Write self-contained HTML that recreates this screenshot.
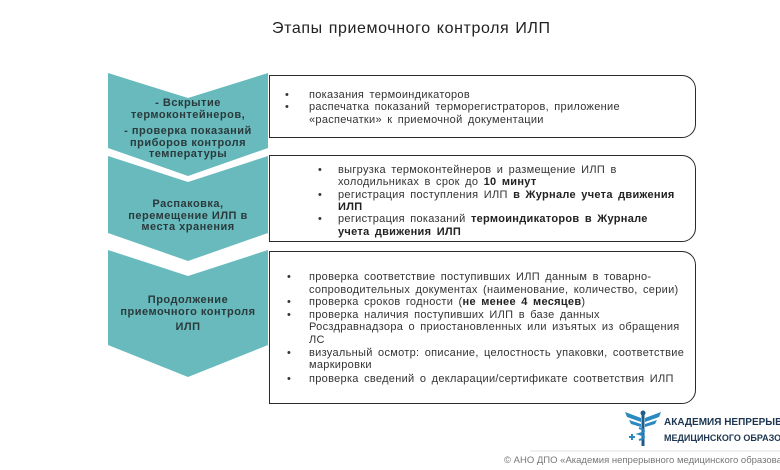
<!DOCTYPE html>
<html><head><meta charset="utf-8"><style>
body{margin:0;width:780px;height:470px;background:#fff;position:relative;overflow:hidden;font-family:"Liberation Sans",sans-serif;}
.t{position:absolute;white-space:nowrap;font-size:11px;letter-spacing:0.3px;word-spacing:2px;color:#333;line-height:12px;}
.b{font-weight:bold;color:#222}
.c{position:absolute;text-align:center;font-size:11px;letter-spacing:0.5px;font-weight:bold;color:#2a3a3c;line-height:11.5px;width:170px;left:103px;}
.box{position:absolute;left:269px;width:425px;border:1.5px solid #2a2a2a;border-radius:0 14px 14px 0;background:#fff;}
</style></head><body>
<div class="t" style="left:272px;top:20px;font-size:16px;letter-spacing:0.6px;word-spacing:1px;color:#222;line-height:18px">Этапы приемочного контроля ИЛП</div>
<svg width="780" height="470" style="position:absolute;left:0;top:0">
<g fill="#69babd">
<polygon points="108,73 188,98 268,73 268,148 188,176 108,148"/>
<polygon points="108,156 188,182 268,156 268,233 188,261 108,233"/>
<polygon points="108,250 188,276 268,250 268,345 188,377 108,345"/>
</g>
<line x1="530" y1="451" x2="780" y2="451" stroke="#e2e2e2"/>
</svg>
<div class="box" style="top:75px;height:61px"></div>
<div class="box" style="top:155px;height:85px"></div>
<div class="box" style="top:251px;height:151px"></div>
<div class="c" style="top:98px">- Вскрытие<br>термоконтейнеров,</div>
<div class="c" style="top:126px">- проверка показаний<br>приборов контроля<br>температуры</div>
<div class="c" style="top:199px">Распаковка,<br>перемещение ИЛП в<br>места хранения</div>
<div class="c" style="top:295px">Продолжение<br>приемочного контроля</div>
<div class="c" style="top:322px">ИЛП</div>

<div class="t" style="left:285px;top:89px">•</div><div class="t" style="left:309px;top:89px">показания термоиндикаторов</div>
<div class="t" style="left:285px;top:101px">•</div><div class="t" style="left:309px;top:101px">распечатка показаний терморегистраторов, приложение</div>
<div class="t" style="left:309px;top:114px">«распечатки» к приемочной документации</div>

<div class="t" style="left:318px;top:164px">•</div><div class="t" style="left:338px;top:164px">выгрузка термоконтейнеров и размещение ИЛП в</div>
<div class="t" style="left:338px;top:176px">холодильниках в срок до <span class="b">10 минут</span></div>
<div class="t" style="left:318px;top:189px">•</div><div class="t" style="left:338px;top:189px">регистрация поступления ИЛП <span class="b">в Журнале учета движения</span></div>
<div class="t" style="left:338px;top:201px"><span class="b">ИЛП</span></div>
<div class="t" style="left:318px;top:213px">•</div><div class="t" style="left:338px;top:213px">регистрация показаний <span class="b">термоиндикаторов в Журнале</span></div>
<div class="t" style="left:338px;top:226px"><span class="b">учета движения ИЛП</span></div>

<div class="t" style="left:287px;top:271px">•</div><div class="t" style="left:309px;top:271px">проверка соответствие поступивших ИЛП данным в товарно-</div>
<div class="t" style="left:309px;top:284px">сопроводительных документах (наименование, количество, серии)</div>
<div class="t" style="left:287px;top:296px">•</div><div class="t" style="left:309px;top:296px">проверка сроков годности (<span class="b">не менее 4 месяцев</span>)</div>
<div class="t" style="left:287px;top:309px">•</div><div class="t" style="left:309px;top:309px">проверка наличия поступивших ИЛП в базе данных</div>
<div class="t" style="left:309px;top:321px">Росздравнадзора о приостановленных или изъятых из обращения</div>
<div class="t" style="left:309px;top:334px">ЛС</div>
<div class="t" style="left:287px;top:347px">•</div><div class="t" style="left:309px;top:347px">визуальный осмотр: описание, целостность упаковки, соответствие</div>
<div class="t" style="left:309px;top:359px">маркировки</div>
<div class="t" style="left:287px;top:373px">•</div><div class="t" style="left:309px;top:373px">проверка сведений о декларации/сертификате соответствия ИЛП</div>

<svg width="40" height="40" style="position:absolute;left:623px;top:408px">
<path d="M2 4 L18 10 L18 14 L4 9Z M38 4 L22 10 L22 14 L36 9Z M6 12 L18 16 L18 19 L8 16Z M34 12 L22 16 L22 19 L32 16Z" fill="#2a8ac0"/>
<rect x="18.5" y="6" width="3" height="32" fill="#1f5c8c"/>
<path d="M16 20 Q26 23 16 26 Q26 29 16 32" stroke="#2a8ac0" stroke-width="2" fill="none"/>
<circle cx="20" cy="5" r="2.5" fill="#1f5c8c"/>
<rect x="6" y="28" width="6" height="2" fill="#2a8ac0"/><rect x="8" y="26" width="2" height="6" fill="#2a8ac0"/>
</svg>
<div class="t" style="left:664px;top:417px;font-size:10px;letter-spacing:0;word-spacing:0;font-weight:bold;color:#1c3550">АКАДЕМИЯ НЕПРЕРЫВНОГО</div>
<div class="t" style="left:664px;top:432px;font-size:9px;letter-spacing:0;word-spacing:0;font-weight:bold;color:#1c3550">МЕДИЦИНСКОГО ОБРАЗОВАНИЯ</div>
<div class="t" style="left:504px;top:455px;font-size:9.5px;letter-spacing:0;word-spacing:0;color:#777">© АНО ДПО «Академия непрерывного медицинского образования»</div>
</body></html>
